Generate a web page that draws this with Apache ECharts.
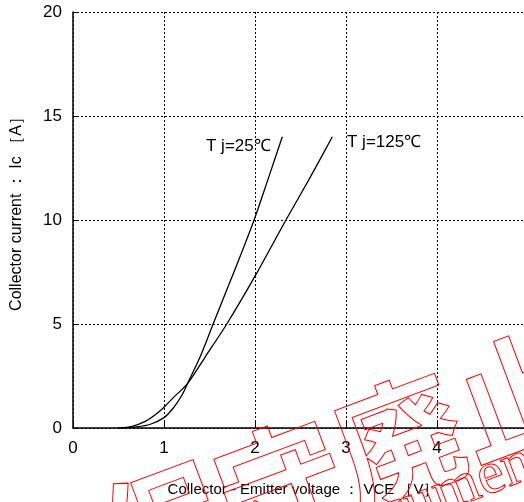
<!DOCTYPE html>
<html>
<head>
<meta charset="utf-8">
<script src="https://cdn.jsdelivr.net/npm/echarts@6/dist/echarts.min.js"></script>
<style>html,body{margin:0;padding:0;background:#fff}#c{width:524px;height:502px}</style>
</head>
<body>
<div id="c"></div>
<script>
// Tj = 25 °C curve  [VCE (V), Ic (A)]
const vce25 = [0.55, 0.70, 0.85, 1.00, 1.10, 1.20, 1.26, 1.40, 1.54, 1.70, 1.85, 1.99, 2.15, 2.30];
const ic25  = [0.00, 0.05, 0.18, 0.50, 0.95, 1.60, 2.15, 3.45, 5.00, 6.75, 8.40, 10.0, 12.05, 14.0];
// Tj = 125 °C curve
const vce125 = [0.50, 0.65, 0.80, 0.90, 1.00, 1.10, 1.26, 1.45, 1.69, 2.00, 2.34, 2.60, 2.85];
const ic125  = [0.00, 0.08, 0.33, 0.62, 1.00, 1.45, 2.15, 3.40, 5.00, 7.30, 10.0, 12.0, 14.0];
const labels = ['T j=25℃', 'T j=125℃'];
const xName = 'Collector - Emitter voltage ： VCE ［V］';
const yName = 'Collector current ： Ic ［A］';

const pair = (xs, ys) => xs.map((x, i) => [x, ys[i]]);
const NARROW = '"Liberation Sans Narrow","Liberation Sans",Arial,sans-serif';
const SANS = '"Liberation Sans",Arial,sans-serif';

const chart = echarts.init(document.getElementById('c'), null, {renderer: 'canvas'});
const dash = {show: true, lineStyle: {color: '#000', width: 1, type: [2, 2]}};
chart.setOption({
  animation: false,
  backgroundColor: '#fff',
  grid: {left: 73, right: 0, top: 12, bottom: 74, containLabel: false},
  xAxis: {
    type: 'value', min: 0, max: 4.956, interval: 1,
    axisLine: {show: true, lineStyle: {color: '#000', width: 1.5}},
    axisTick: {show: true, inside: true, length: 6, lineStyle: {color: '#000', width: 1}},
    axisLabel: {color: '#000', fontSize: 17, fontFamily: NARROW, margin: 12, showMaxLabel: false},
    splitLine: dash
  },
  yAxis: {
    type: 'value', min: 0, max: 20, interval: 5,
    axisLine: {show: true, lineStyle: {color: '#000', width: 1.5}},
    axisTick: {show: true, inside: true, length: 6, lineStyle: {color: '#000', width: 1}},
    axisLabel: {color: '#000', fontSize: 17, fontFamily: NARROW, margin: 11},
    splitLine: dash
  },
  series: [
    {type: 'line', name: labels[0], data: pair(vce25, ic25), showSymbol: false, smooth: 0.3,
     lineStyle: {color: '#000', width: 1.3}, z: 5},
    {type: 'line', name: labels[1], data: pair(vce125, ic125), showSymbol: false, smooth: 0.3,
     lineStyle: {color: '#000', width: 1.3}, z: 5}
  ],
  graphic: [
    {type: 'text', x: 206, y: 146, z: 10,
     style: {text: labels[0], fill: '#000', fontSize: 17, fontFamily: NARROW, align: 'left', verticalAlign: 'middle'}},
    {type: 'text', x: 347, y: 142, z: 10,
     style: {text: labels[1], fill: '#000', fontSize: 17, fontFamily: NARROW, align: 'left', verticalAlign: 'middle'}},
    {type: 'text', x: 303, y: 490, z: 10,
     style: {text: xName, fill: '#000', fontSize: 15, fontFamily: SANS, align: 'center', verticalAlign: 'middle'}},
    {type: 'text', x: 17, y: 210, rotation: Math.PI / 2, z: 10,
     style: {text: yName, fill: '#000', fontSize: 16, fontFamily: SANS, align: 'center', verticalAlign: 'middle'}},
    {type: 'text', x: 340, y: 462, rotation: 20.5 * Math.PI / 180, z: 20, silent: true,
     style: {text: '保守廃止', fontSize: 126, fontWeight: 'bold', fontFamily: '"Noto Sans CJK JP",sans-serif',
             fill: 'rgba(0,0,0,0)', stroke: '#ff0000', lineWidth: 1, align: 'center', verticalAlign: 'middle'}},
    {type: 'text', x: 430, y: 500, rotation: 21 * Math.PI / 180, z: 20, silent: true,
     style: {text: 'Document', fontSize: 60, fontFamily: '"Liberation Serif",serif',
             fill: 'rgba(0,0,0,0)', stroke: '#ff0000', lineWidth: 1, align: 'center', verticalAlign: 'middle'}}
  ]
});
</script>
</body>
</html>
